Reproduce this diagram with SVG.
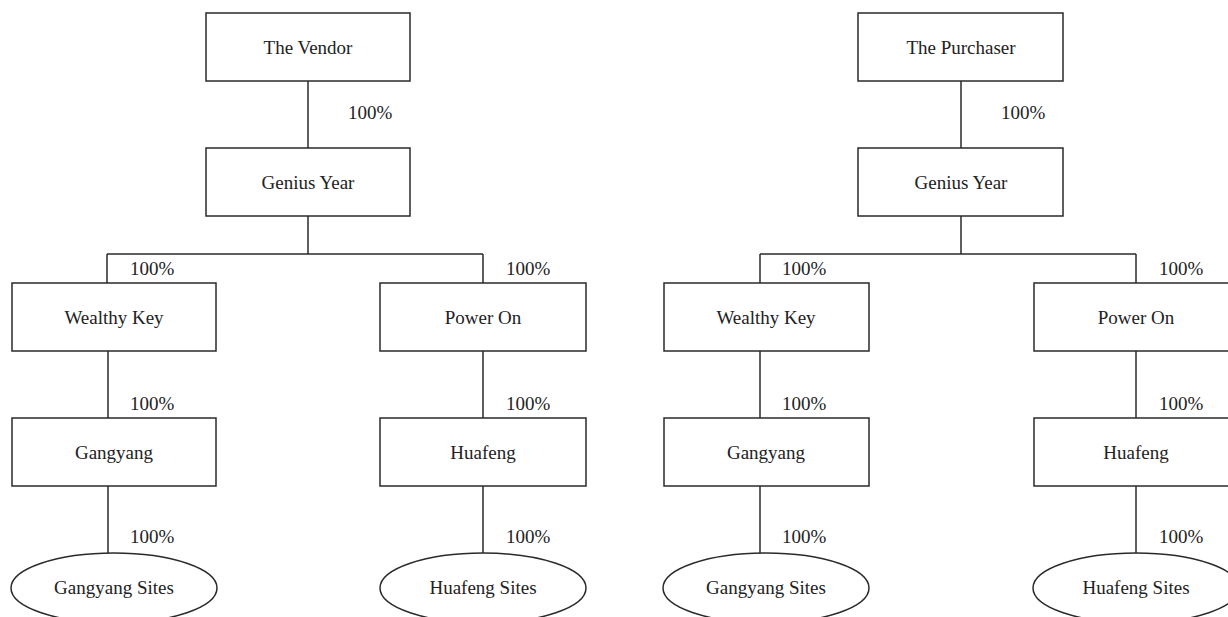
<svg xmlns="http://www.w3.org/2000/svg" width="1228" height="617" viewBox="0 0 1228 617">
<style>
.box{fill:#fff;stroke:#2a2a2a;stroke-width:1.5}
.lbl{font-family:"Liberation Serif","Times New Roman",serif;font-size:19px;fill:#222;text-anchor:middle}
.pct{font-family:"Liberation Serif","Times New Roman",serif;font-size:19px;fill:#222}
.con line{stroke:#2a2a2a;stroke-width:1.5}
</style>
<rect width="1228" height="617" fill="#fff"/>
<g id="connectors" class="con">
<line x1="308" y1="81" x2="308" y2="148"/>
<line x1="308" y1="216" x2="308" y2="254"/>
<line x1="107" y1="254" x2="483" y2="254"/>
<line x1="107" y1="254" x2="107" y2="283"/>
<line x1="483" y1="254" x2="483" y2="283"/>
<line x1="108" y1="351" x2="108" y2="418"/>
<line x1="483" y1="351" x2="483" y2="418"/>
<line x1="108" y1="486" x2="108" y2="553"/>
<line x1="483" y1="486" x2="483" y2="553"/>
<line x1="961" y1="81" x2="961" y2="148"/>
<line x1="961" y1="216" x2="961" y2="254"/>
<line x1="760" y1="254" x2="1136" y2="254"/>
<line x1="760" y1="254" x2="760" y2="283"/>
<line x1="1136" y1="254" x2="1136" y2="283"/>
<line x1="760" y1="351" x2="760" y2="418"/>
<line x1="1136" y1="351" x2="1136" y2="418"/>
<line x1="760" y1="486" x2="760" y2="554"/>
<line x1="1136" y1="486" x2="1136" y2="554"/>
</g>
<g id="labels">
<text class="pct" x="348" y="119">100%</text>
<text class="pct" x="130" y="275">100%</text>
<text class="pct" x="506" y="275">100%</text>
<text class="pct" x="130" y="410">100%</text>
<text class="pct" x="506" y="410">100%</text>
<text class="pct" x="130" y="543">100%</text>
<text class="pct" x="506" y="543">100%</text>
<text class="pct" x="1001" y="119">100%</text>
<text class="pct" x="782" y="275">100%</text>
<text class="pct" x="1159" y="275">100%</text>
<text class="pct" x="782" y="410">100%</text>
<text class="pct" x="1159" y="410">100%</text>
<text class="pct" x="782" y="543">100%</text>
<text class="pct" x="1159" y="543">100%</text>
</g>
<g id="vendor"><rect class="box" x="206" y="13" width="204" height="68"/><text class="lbl" x="308" y="54">The Vendor</text></g>
<g id="gy-left"><rect class="box" x="206" y="148" width="204" height="68"/><text class="lbl" x="308" y="189">Genius Year</text></g>
<g id="wk-left"><rect class="box" x="12" y="283" width="204" height="68"/><text class="lbl" x="114" y="324">Wealthy Key</text></g>
<g id="po-left"><rect class="box" x="380" y="283" width="206" height="68"/><text class="lbl" x="483" y="324">Power On</text></g>
<g id="gg-left"><rect class="box" x="12" y="418" width="204" height="68"/><text class="lbl" x="114" y="459">Gangyang</text></g>
<g id="hf-left"><rect class="box" x="380" y="418" width="206" height="68"/><text class="lbl" x="483" y="459">Huafeng</text></g>
<g id="ggs-left"><ellipse class="box" cx="114" cy="588" rx="103" ry="35"/><text class="lbl" x="114" y="594">Gangyang Sites</text></g>
<g id="hfs-left"><ellipse class="box" cx="483" cy="588" rx="103" ry="35"/><text class="lbl" x="483" y="594">Huafeng Sites</text></g>
<g id="purchaser"><rect class="box" x="858" y="13" width="205" height="68"/><text class="lbl" x="961" y="54">The Purchaser</text></g>
<g id="gy-right"><rect class="box" x="858" y="148" width="205" height="68"/><text class="lbl" x="961" y="189">Genius Year</text></g>
<g id="wk-right"><rect class="box" x="664" y="283" width="205" height="68"/><text class="lbl" x="766" y="324">Wealthy Key</text></g>
<g id="po-right"><rect class="box" x="1034" y="283" width="205" height="68"/><text class="lbl" x="1136" y="324">Power On</text></g>
<g id="gg-right"><rect class="box" x="664" y="418" width="205" height="68"/><text class="lbl" x="766" y="459">Gangyang</text></g>
<g id="hf-right"><rect class="box" x="1034" y="418" width="205" height="68"/><text class="lbl" x="1136" y="459">Huafeng</text></g>
<g id="ggs-right"><ellipse class="box" cx="766" cy="588" rx="103" ry="35"/><text class="lbl" x="766" y="594">Gangyang Sites</text></g>
<g id="hfs-right"><ellipse class="box" cx="1136" cy="588" rx="103" ry="35"/><text class="lbl" x="1136" y="594">Huafeng Sites</text></g>
</svg>
